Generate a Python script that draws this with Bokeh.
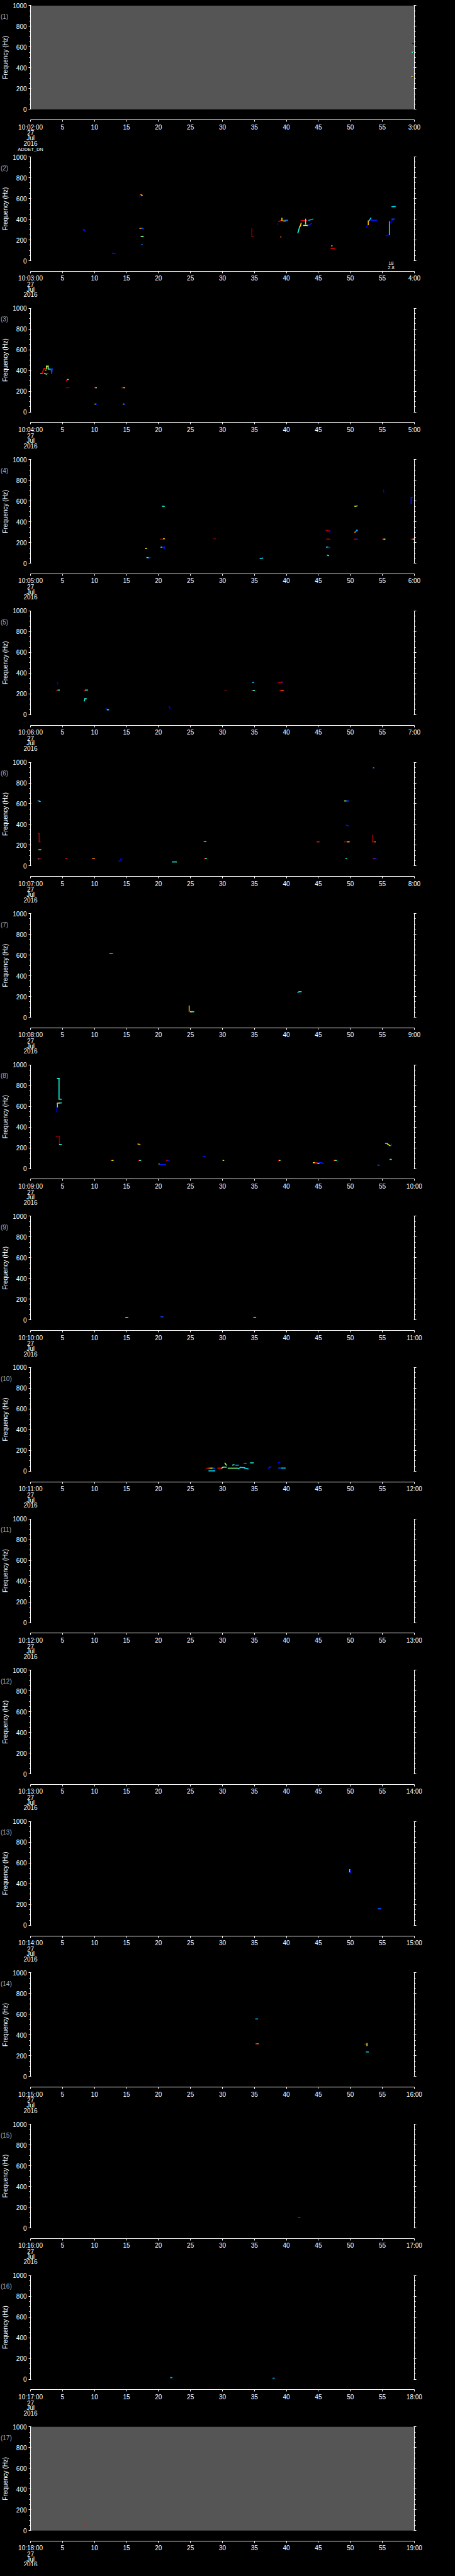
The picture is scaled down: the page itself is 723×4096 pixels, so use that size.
import math
from bokeh.plotting import figure
from bokeh.models import Range1d, LinearAxis, FixedTicker, Label, ColumnDataSource, GlobalInlineStyleSheet
from bokeh.transform import linear_cmap
from bokeh.layouts import column
from bokeh.embed import file_html
from bokeh.resources import INLINE

# ---------------- data ----------------
panel_start_min = list(range(2, 19))          # 10:02:00 ... 10:18:00
date_lines = ["27", "Jul", "2016"]
x_ticks = list(range(0, 61, 5))
y_ticks = [0, 200, 400, 600, 800, 1000]
y_minor = list(range(0, 1001, 50))
no_data_panels = [1, 17]                      # grey = no data
station = "ADDET_DN"
panel2_note = ["18", "2.8"]

# tracks: (t0 [s], f0 [Hz], t1 [s], f1 [Hz], intensity 0..1)
seg01 = [(59.7, 636, 60.0, 630, 0.10), (59.7, 550, 59.85, 550, 0.45), (59.85, 548, 60.0, 545, 0.15),
         (59.6, 314, 59.8, 314, 0.65), (59.85, 314, 59.85, 296, 0.88), (59.7, 310, 59.75, 310, 0.12)]
seg02 = [(8.3, 300, 8.4, 292, 0.9), (8.45, 292, 8.6, 284, 0.12), (12.8, 73, 13.2, 68, 0.15),
         (17.1, 633, 17.1, 611, 0.1), (17.25, 637, 17.35, 632, 0.75), (17.35, 632, 17.45, 630, 0.65),
         (17.1, 311, 17.4, 313, 0.72), (17.4, 311, 17.6, 309, 0.2), (17.3, 233, 17.6, 233, 0.5),
         (17.4, 156, 17.45, 156, 0.25), (34.6, 311, 34.6, 233, 1.0), (34.6, 233, 34.9, 233, 1.0),
         (39.1, 229, 39.15, 229, 0.8), (38.65, 361, 38.65, 347, 0.1), (38.8, 379, 39.3, 390, 0.9),
         (39.3, 390, 39.3, 409, 0.65), (39.5, 383, 39.9, 383, 0.7), (39.8, 390, 40.2, 390, 0.25),
         (41.8, 269, 42.1, 333, 0.4), (42.2, 333, 42.3, 361, 0.65), (42.3, 386, 43.2, 386, 0.9),
         (43.0, 354, 43.0, 400, 0.45), (42.7, 340, 43.3, 340, 0.6), (43.3, 333, 43.9, 359, 0.15),
         (43.5, 390, 44.1, 400, 0.3), (47.05, 143, 47.15, 143, 0.75), (47.0, 119, 47.5, 117, 0.9),
         (52.5, 326, 52.8, 347, 0.12), (52.8, 347, 52.8, 383, 0.7), (52.9, 383, 53.2, 411, 0.35),
         (53.2, 390, 54.1, 390, 0.15), (55.6, 240, 56.0, 250, 0.1), (56.1, 250, 56.1, 347, 0.35),
         (56.1, 347, 56.1, 376, 0.75), (56.3, 369, 56.6, 393, 0.12), (56.5, 401, 56.9, 401, 0.2),
         (56.5, 520, 57.0, 522, 0.35)]
seg03 = [(1.6, 370, 1.8, 370, 0.75), (1.8, 374, 2.1, 417, 0.9), (2.1, 417, 2.3, 417, 0.85),
         (2.3, 403, 2.4, 403, 0.75), (2.5, 417, 2.5, 441, 0.55), (2.5, 441, 2.75, 441, 0.55),
         (2.75, 441, 2.75, 417, 0.55), (2.8, 414, 3.2, 414, 0.35), (3.2, 414, 3.3, 374, 0.2),
         (3.3, 374, 3.4, 417, 0.2), (2.2, 370, 2.5, 364, 0.5), (2.5, 370, 2.7, 370, 0.2),
         (5.6, 299, 5.7, 309, 0.9), (5.75, 313, 5.9, 313, 0.4), (5.6, 234, 6.0, 234, 1.0),
         (10.0, 234, 10.2, 234, 0.9), (10.2, 234, 10.3, 234, 0.55), (14.3, 234, 14.6, 234, 0.9),
         (14.6, 234, 14.7, 234, 0.65), (10.1, 76, 10.2, 76, 0.65), (10.2, 76, 10.3, 76, 0.15),
         (14.5, 76, 14.6, 76, 0.65), (14.6, 76, 14.7, 76, 0.15)]
seg04 = [(20.6, 550, 20.9, 550, 0.4), (20.3, 233, 20.8, 233, 0.95), (20.8, 237, 20.9, 237, 0.65),
         (20.4, 156, 20.6, 156, 0.4), (20.6, 156, 20.9, 156, 0.15), (20.9, 156, 20.9, 141, 0.15),
         (18.0, 143, 18.1, 143, 0.65), (18.2, 56, 18.5, 53, 0.4), (18.5, 53, 18.7, 56, 0.15),
         (28.6, 237, 28.9, 237, 1.0), (35.9, 47, 36.3, 51, 0.35), (46.2, 319, 46.5, 317, 0.95),
         (46.5, 313, 46.8, 313, 0.95), (46.8, 313, 46.8, 294, 0.12), (46.3, 233, 46.8, 233, 0.95),
         (46.3, 156, 46.5, 156, 0.4), (46.5, 151, 46.8, 151, 0.15), (46.4, 79, 46.6, 74, 0.4),
         (50.7, 550, 50.9, 550, 0.65), (50.9, 554, 51.1, 554, 0.3), (50.7, 300, 50.75, 303, 0.75),
         (50.8, 303, 51.0, 319, 0.3), (51.0, 319, 51.1, 319, 0.3), (50.6, 233, 50.95, 233, 0.95),
         (50.95, 233, 51.1, 233, 0.15), (55.2, 708, 55.2, 684, 0.08), (55.0, 233, 55.25, 233, 0.95),
         (55.25, 233, 55.4, 233, 0.6), (59.5, 633, 59.5, 577, 0.15), (59.5, 633, 59.7, 633, 0.15),
         (59.5, 233, 59.8, 233, 0.95), (59.8, 233, 59.9, 233, 0.65)]
seg05 = [(4.2, 311, 4.25, 296, 0.1), (4.1, 233, 4.3, 233, 0.95), (4.3, 237, 4.5, 237, 0.4),
         (8.4, 233, 8.6, 233, 0.95), (8.6, 237, 8.9, 237, 0.4), (8.4, 133, 8.5, 150, 0.4),
         (8.5, 153, 8.7, 153, 0.4), (11.8, 57, 12.0, 50, 0.15), (12.0, 47, 12.2, 47, 0.35),
         (21.7, 80, 21.8, 59, 0.12), (30.4, 233, 30.6, 233, 1.0), (34.7, 311, 34.9, 311, 0.3),
         (34.6, 233, 34.8, 233, 0.95), (34.8, 233, 35.0, 233, 0.4), (38.8, 310, 39.4, 310, 0.95),
         (39.3, 319, 39.4, 313, 0.12), (39.0, 233, 39.3, 233, 0.9), (39.3, 233, 39.5, 233, 0.8)]
seg06 = [(1.1, 627, 1.3, 627, 0.15), (1.3, 627, 1.5, 621, 0.4), (1.2, 311, 1.35, 311, 0.95),
         (1.35, 311, 1.35, 233, 0.95), (1.35, 233, 1.5, 233, 0.95), (1.3, 156, 1.6, 156, 0.5),
         (1.2, 70, 1.3, 70, 0.4), (1.3, 70, 1.6, 70, 0.95), (5.5, 74, 5.6, 74, 0.2),
         (5.6, 74, 5.7, 74, 0.9), (9.7, 74, 10.0, 74, 0.75), (13.8, 43, 14.1, 60, 0.12),
         (14.1, 67, 14.3, 67, 0.12), (22.2, 39, 22.8, 39, 0.4), (27.1, 237, 27.25, 237, 0.9),
         (27.25, 237, 27.4, 237, 0.4), (27.2, 74, 27.35, 74, 0.9), (27.35, 74, 27.5, 74, 0.4),
         (44.8, 233, 45.1, 233, 0.85), (49.1, 627, 49.4, 627, 0.55), (49.4, 627, 49.7, 627, 0.2),
         (49.4, 393, 49.7, 386, 0.15), (49.1, 233, 49.6, 233, 0.95), (49.6, 233, 49.8, 233, 0.65),
         (49.3, 74, 49.4, 74, 0.4), (53.6, 946, 53.65, 946, 0.25), (53.5, 297, 53.5, 233, 0.95),
         (53.5, 233, 53.8, 233, 0.95), (53.8, 233, 53.9, 233, 0.75), (53.6, 70, 53.8, 70, 0.9),
         (53.8, 74, 54.0, 74, 0.15)]
seg07 = [(12.4, 614, 12.8, 614, 0.3), (41.8, 240, 42.0, 247, 0.35), (42.0, 247, 42.3, 247, 0.35),
         (24.8, 109, 24.8, 59, 0.7), (24.8, 54, 25.0, 54, 0.95), (25.0, 54, 25.2, 54, 0.6),
         (25.2, 54, 25.5, 54, 0.4)]
seg08 = [(4.2, 869, 4.45, 869, 0.4), (4.45, 869, 4.45, 670, 0.4), (4.45, 670, 4.6, 670, 0.75),
         (4.6, 670, 4.8, 670, 0.4), (4.2, 630, 4.5, 633, 0.7), (4.5, 633, 4.8, 633, 0.4),
         (4.2, 630, 4.2, 594, 0.4), (4.05, 580, 4.05, 549, 0.05), (4.0, 311, 4.5, 311, 1.0),
         (4.5, 311, 4.5, 233, 1.0), (4.55, 233, 4.8, 233, 0.4), (16.8, 237, 17.1, 233, 0.7),
         (12.6, 79, 12.75, 79, 0.9), (12.75, 79, 12.9, 79, 0.65), (16.9, 79, 17.05, 79, 0.9),
         (17.05, 79, 17.2, 79, 0.4), (21.3, 79, 21.45, 79, 0.9), (21.45, 79, 21.6, 79, 0.15),
         (27.0, 117, 27.3, 117, 0.15), (30.1, 79, 30.2, 79, 0.65), (38.8, 79, 38.9, 79, 0.9),
         (38.9, 79, 39.0, 79, 0.55), (47.5, 79, 47.65, 79, 0.75), (47.65, 79, 47.8, 79, 0.4),
         (20.1, 44, 20.2, 40, 0.55), (20.2, 39, 21.1, 39, 0.15), (44.2, 57, 44.5, 57, 0.65),
         (44.5, 57, 44.8, 54, 0.9), (44.8, 54, 45.0, 50, 0.75), (45.0, 50, 45.1, 50, 0.55),
         (45.1, 57, 45.5, 57, 0.15), (45.5, 57, 45.8, 50, 0.15), (54.3, 36, 54.5, 31, 0.2),
         (55.5, 243, 55.8, 243, 0.35), (55.8, 237, 56.2, 221, 0.6), (56.4, 236, 56.4, 221, 0.15),
         (56.2, 89, 56.4, 89, 0.4)]
seg09 = [(14.9, 25, 15.2, 25, 0.4), (20.4, 30, 20.7, 30, 0.2), (34.9, 25, 35.2, 25, 0.35)]
seg10 = [(27.5, 30, 27.9, 30, 0.9), (27.9, 30, 28.2, 30, 0.75), (28.2, 30, 28.5, 30, 0.6),
         (28.5, 30, 28.8, 30, 0.2), (29.3, 30, 29.9, 30, 0.85), (29.9, 30, 30.1, 40, 0.55),
         (30.1, 40, 30.6, 40, 0.45), (27.9, 4, 28.8, 4, 0.35), (30.4, 79, 30.6, 60, 0.55),
         (30.9, 30, 32.4, 30, 0.5), (31.6, 60, 31.8, 63, 0.4), (32.1, 59, 32.5, 59, 0.3),
         (32.5, 24, 32.8, 37, 0.35), (32.8, 37, 33.5, 34, 0.35), (33.5, 30, 34.0, 24, 0.35),
         (33.4, 77, 33.7, 77, 0.25), (34.4, 81, 34.8, 81, 0.4), (37.2, 30, 37.4, 41, 0.15),
         (37.4, 41, 37.6, 41, 0.15), (38.7, 81, 39.0, 90, 0.12), (38.8, 31, 39.3, 31, 0.2),
         (39.3, 31, 39.8, 31, 0.35)]
seg11 = []
seg12 = []
seg13 = [(49.9, 537, 49.9, 514, 0.4), (50.0, 530, 50.1, 501, 0.15), (54.4, 160, 54.7, 160, 0.2)]
seg14 = [(35.2, 556, 35.5, 556, 0.3), (35.2, 316, 35.4, 316, 0.9), (35.4, 316, 35.6, 316, 0.75),
         (52.3, 313, 52.5, 313, 0.95), (52.6, 319, 52.6, 300, 0.55), (52.5, 237, 52.8, 237, 0.35)]
seg15 = [(41.9, 100, 42.1, 100, 0.2)]
seg16 = [(21.9, 15, 22.1, 15, 0.3), (37.9, 10, 38.1, 10, 0.3)]
seg17 = [(8.45, 53, 8.55, 53, 0.85)]

panel_tracks = [seg01, seg02, seg03, seg04, seg05, seg06, seg07, seg08, seg09,
                seg10, seg11, seg12, seg13, seg14, seg15, seg16, seg17]

# ---------------- style / layout ----------------
FONT = "Liberation Sans"
WHITE = "white"
GREY_BG = "#555555"
LABEL_GREY = "#aaaaaa"


def jet_palette(n=256):
    cols = []
    for i in range(n):
        x = i / (n - 1)
        r = min(max(1.5 - abs(4 * x - 3), 0), 1)
        g = min(max(1.5 - abs(4 * x - 2), 0), 1)
        b = min(max(1.5 - abs(4 * x - 1), 0), 1)
        cols.append("#%02x%02x%02x" % (int(r * 255), int(g * 255), int(b * 255)))
    return cols


JET = jet_palette()

SC = 0.705                     # reference -> page scale
MARGIN = 8                     # page margin
FIG_W = 707
OX0, OX1 = 79.5, 944.5         # reference x of t=0 / t=60
OPANEL = 341.3                 # reference panel period
OTOP = 23.3                    # reference y of 1000 Hz in panel 1
OPH = 234.0                    # reference px from 1000 Hz to 0 Hz
T_PER_OPX = 60.0 / (OX1 - OX0)
HZ_PER_OPX = 1000.0 / OPH


def t_of(ox):                  # reference x -> seconds
    return (ox - OX0) * T_PER_OPX


def f_of(oy_off):              # reference px below the 1000 Hz line -> Hz
    return 1000.0 - oy_off * HZ_PER_OPX


F_AXIS = f_of(257.7)           # time axis line
X_START = t_of(MARGIN / SC)
X_END = t_of((MARGIN + FIG_W) / SC)

# figure tops (page px)
tops = [MARGIN] + [int(round(OPANEL * SC * i)) for i in range(1, 17)] + [4088]
tops[1] += 11

figs = []
for i in range(17):
    k = i + 1
    H = tops[i + 1] - tops[i]
    o_panel_top = OTOP + OPANEL * i
    y_hi = f_of(tops[i] / SC - o_panel_top)
    y_lo = f_of(tops[i + 1] / SC - o_panel_top)
    p = figure(width=FIG_W, height=H, x_range=Range1d(X_START, X_END), y_range=Range1d(y_lo, y_hi),
               output_backend="svg", toolbar_location=None,
               background_fill_color="black", border_fill_color="black",
               outline_line_color=None, min_border=0,
               x_axis_location=None, y_axis_location=None)
    p.grid.visible = False

    if k in no_data_panels:
        p.quad(left=[x_ticks[0]], right=[x_ticks[-1]], bottom=[y_ticks[0]], top=[y_ticks[-1]],
               fill_color=GREY_BG, line_color=None)

    segs = panel_tracks[i]
    if segs:
        src = ColumnDataSource(dict(
            t0=[s[0] for s in segs], f0=[s[1] for s in segs],
            t1=[s[2] for s in segs], f1=[s[3] for s in segs], v=[s[4] for s in segs]))
        p.segment("t0", "f0", "t1", "f1", source=src,
                  line_color=linear_cmap("v", JET, 0, 1), line_width=1.6, line_cap="square")

    # frequency axes (left with labels, right ticks only)
    for side, loc in (("left", x_ticks[0]), ("right", x_ticks[-1])):
        ax = LinearAxis(bounds=(y_ticks[0], y_ticks[-1]), fixed_location=loc,
                        ticker=FixedTicker(ticks=y_ticks, minor_ticks=y_minor))
        ax.axis_line_color = WHITE
        ax.major_tick_line_color = WHITE
        ax.minor_tick_line_color = WHITE
        ax.major_tick_in = 1
        ax.major_tick_out = 3
        ax.minor_tick_in = 0
        ax.minor_tick_out = 2
        ax.major_label_text_color = WHITE
        ax.major_label_text_font = FONT
        ax.major_label_text_font_size = "10px"
        ax.major_label_standoff = 3
        if side == "right":
            ax.major_label_overrides = {t: "" for t in y_ticks}
        p.add_layout(ax, side)

    # time axis
    start = panel_start_min[i]
    overrides = {t: str(t) for t in x_ticks}
    overrides[x_ticks[0]] = "10:%02d:00" % start
    overrides[x_ticks[-1]] = "%d:00" % (start + 1)
    xa = LinearAxis(ticker=FixedTicker(ticks=x_ticks, minor_ticks=[]), fixed_location=F_AXIS,
                    bounds=(x_ticks[0], x_ticks[-1]), major_label_overrides=overrides)
    xa.axis_line_color = WHITE
    xa.major_tick_line_color = WHITE
    xa.minor_tick_line_color = None
    xa.major_tick_in = 0
    xa.major_tick_out = 3
    xa.major_label_text_color = WHITE
    xa.major_label_text_font = FONT
    xa.major_label_text_font_size = "10px"
    xa.major_label_standoff = 3
    p.add_layout(xa, "below")

    # date lines under first tick
    for j, txt in enumerate(date_lines):
        p.add_layout(Label(x=0, y=f_of(287.2 + 11.5 * j), text=txt,
                           text_align="center", text_baseline="middle",
                           text_color=WHITE, text_font=FONT, text_font_size="10px"))
    if k == 1:
        p.add_layout(Label(x=0, y=f_of(348 - OTOP), text=station,
                           text_align="center", text_baseline="middle",
                           text_color=WHITE, text_font=FONT, text_font_size="7.5px"))
    if k == 2:
        for j, txt in enumerate(panel2_note):
            p.add_layout(Label(x=t_of(892), y=f_of(240 + 10 * j), text=txt,
                               text_align="center", text_baseline="middle",
                               text_color=WHITE, text_font=FONT, text_font_size="7.5px"))

    # y label and panel number
    p.add_layout(Label(x=t_of(22), y=500, text="Frequency (Hz)",
                       angle=math.pi / 2, text_align="center", text_baseline="middle",
                       text_color=WHITE, text_font=FONT, text_font_size="10px"))
    p.add_layout(Label(x=t_of(12), y=f_of(25), text="(%d)" % k,
                       text_align="left", text_baseline="middle",
                       text_color=LABEL_GREY, text_font=FONT, text_font_size="10px"))
    figs.append(p)

page_css = GlobalInlineStyleSheet(css="html, body { background-color: #000000; }")
layout = column(*figs, spacing=0, styles={"background-color": "#000000"}, stylesheets=[page_css])
open("out.html", "w").write(file_html(layout, INLINE))
